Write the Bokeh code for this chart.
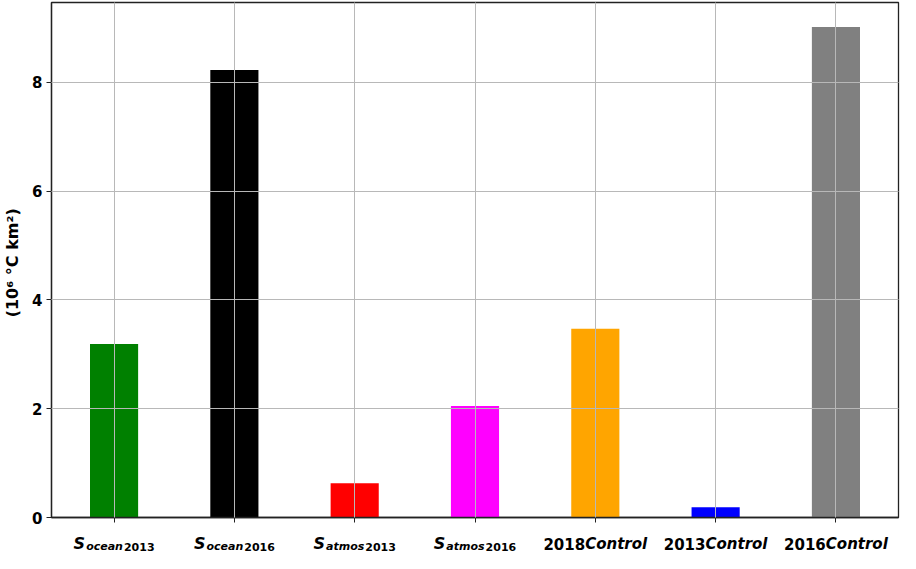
from bokeh.plotting import figure
from bokeh.models import Range1d, FixedTicker
from bokeh.layouts import column
from bokeh.core.properties import value
from bokeh.embed import file_html
from bokeh.resources import INLINE

# ---- data ----
categories = ["S_ocean2013", "S_ocean2016", "S_atmos2013", "S_atmos2016",
              "2018Control", "2013Control", "2016Control"]
values = [3.19, 8.23, 0.63, 2.05, 3.47, 0.19, 9.02]
colors = ["#008000", "#000000", "#FF0000", "#FF00FF", "#FFA500", "#0000FF", "#808080"]
y_ticks = [0, 2, 4, 6, 8]
y_label = "(10\u2076 \u00b0C  km\u00b2)"

FONT = "DejaVu Sans"
x_pos = list(range(len(categories)))
x_rng = Range1d(-0.52, 6.52)

p = figure(width=900, height=527, output_backend="svg", toolbar_location=None,
           x_range=x_rng, y_range=Range1d(0, 9.47),
           min_border_left=42, min_border_right=2, min_border_top=2, min_border_bottom=10)
p.background_fill_color = "white"
p.border_fill_color = "white"
p.outline_line_color = "#222222"
p.outline_line_width = 1.3

p.vbar(x=x_pos, top=values, width=0.4, fill_color=colors, line_color=None)

for g in (p.xgrid, p.ygrid):
    g.grid_line_color = "#b8b8b8"
    g.grid_line_width = 1
    g.level = "overlay"

p.xaxis.ticker = FixedTicker(ticks=x_pos)
p.yaxis.ticker = FixedTicker(ticks=y_ticks)
p.xaxis.major_label_overrides = {i: "" for i in x_pos}
p.xaxis.major_label_text_font_size = "1px"
p.xaxis.major_label_standoff = 0
p.xaxis.minor_tick_line_color = None
p.yaxis.minor_tick_line_color = None
for ax in (p.xaxis, p.yaxis):
    ax.major_tick_out = 5
    ax.major_tick_in = 0
    ax.major_tick_line_color = "#222222"
    ax.axis_line_color = "#222222"
    ax.axis_line_width = 1.3

p.yaxis.major_label_text_font = FONT
p.yaxis.major_label_text_font_style = "bold"
p.yaxis.major_label_text_font_size = "15px"
p.yaxis.major_label_text_color = "black"
p.yaxis.major_label_standoff = 4
p.yaxis.axis_label = y_label
p.yaxis.axis_label_text_font = FONT
p.yaxis.axis_label_text_font_style = "bold"
p.yaxis.axis_label_text_font_size = "16px"
p.yaxis.axis_label_text_color = "black"
p.yaxis.axis_label_standoff = 7

# ---- strip with the x tick labels (with sub-scripts) ----
q = figure(width=900, height=26, output_backend="svg", toolbar_location=None,
           x_range=x_rng, y_range=Range1d(0, 1),
           x_axis_location=None, y_axis_location=None,
           min_border_left=42, min_border_right=2, min_border_top=0, min_border_bottom=0)
q.outline_line_color = None
q.grid.visible = False
q.border_fill_color = "white"
q.background_fill_color = "white"

W = {"0": .696, "1": .696, "2": .696, "3": .696, "4": .696, "5": .696, "6": .696,
     "7": .696, "8": .696, "9": .696, "S": .722, "o": .687, "c": .592, "e": .678,
     "a": .675, "n": .712, "t": .478, "m": 1.042, "s": .595, "C": .734, "r": .493, "l": .343}

def tw(s, size):
    return sum(W.get(ch, 0.65) for ch in s) * size

for i, cat in enumerate(categories):
    if cat.startswith("S_"):
        word = cat[2:7]
        year = cat[7:]
        parts = [("S", 16, "bold italic", 0, 1), (word, 11, "bold italic", 3, 1), (year, 11, "bold", 3, 0)]
    else:
        parts = [(cat[:4], 15, "bold", 0, 0), (cat[4:], 15, "bold italic", 0, 0)]
    total = sum(tw(t, s) + gap for t, s, _, _, gap in parts)
    off = -total / 2
    for t, s, st, dy, gap in parts:
        q.text(x=[i], y=[1], text=[t], x_offset=off, y_offset=16 + dy,
               text_font=value(FONT), text_font_size=value(f"{s}px"), text_font_style=st,
               text_color="black", text_align="left", text_baseline="alphabetic")
        off += tw(t, s) + gap

layout = column(p, q, spacing=0)
open("out.html", "w").write(file_html(layout, INLINE))
